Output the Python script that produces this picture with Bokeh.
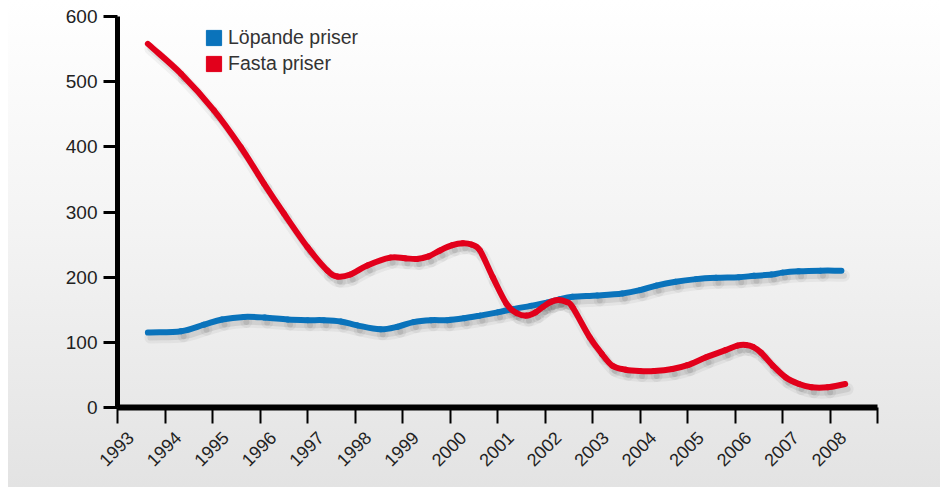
from math import pi
import numpy as np
from bokeh.plotting import figure
from bokeh.models import Range1d, FixedTicker, Legend, LegendItem, LinearAxis
from bokeh.embed import file_html
from bokeh.resources import INLINE

# Tick positions / labels
tick_years = list(range(1993, 2010))
tick_labels = [str(y) for y in range(1993, 2009)] + [""]
y_ticks = [0, 100, 200, 300, 400, 500, 600]

# Series (x in years, y in value)
lopande_x = [1993.64, 1994.34, 1994.82, 1995.20, 1995.66, 1996.10, 1996.58, 1997.00, 1997.34,
             1997.70, 1998.05, 1998.53, 1998.90, 1999.23, 1999.60, 1999.94, 2000.30, 2000.63,
             2001.00, 2001.32, 2001.70, 2002.04, 2002.30, 2002.58, 2003.10, 2003.63, 2004.00,
             2004.34, 2004.75, 2005.18, 2005.60, 2006.08, 2006.40, 2006.77, 2007.00, 2007.34,
             2007.80, 2008.24]
lopande_y = [115, 117, 127, 135, 139, 138, 135, 134, 134,
             132, 126, 120, 124, 131, 134, 134, 137, 141,
             146, 151, 156, 161, 166, 170, 172, 175, 180,
             187, 193, 197, 199, 200, 202, 204, 207, 209,
             210, 210]

fasta_x = [1993.64, 1994.34, 1995.03, 1995.60, 1996.08, 1996.50,
           1997.00, 1997.42, 1997.63, 1997.90, 1998.26, 1998.74, 1999.05, 1999.30, 1999.55,
           1999.79, 2000.05, 2000.27, 2000.45, 2000.63, 2000.90, 2001.19, 2001.40, 2001.61,
           2001.80, 2001.95, 2002.12, 2002.28, 2002.45, 2002.58, 2002.94, 2003.20, 2003.42,
           2003.70, 2003.99, 2004.30, 2004.68, 2005.00, 2005.39, 2005.80, 2006.05, 2006.23,
           2006.38, 2006.55, 2006.80, 2007.07, 2007.35, 2007.61, 2007.95, 2008.32]
fasta_y = [558, 512, 456, 399, 344, 298,
           246, 210, 201, 204, 218, 230, 229, 228, 232,
           241, 249, 252, 250, 241, 200, 159, 145, 141,
           146, 154, 162, 165, 162, 154, 108, 82, 64,
           58, 56, 56, 59, 65, 77, 88, 95, 96,
           93, 84, 64, 46, 36, 31, 31, 36]

BLUE = "#0a73bb"
RED = "#e2001b"

x0, x1 = 1993.0, 2009.0
y0, y1 = 0.0, 600.0
FW, FH = 760, 391


def smooth_segments(xs, ys):
    """Catmull-Rom -> cubic Bezier segments through the given points."""
    x = np.asarray(xs, float)
    y = np.asarray(ys, float)
    xp = np.concatenate([[2 * x[0] - x[1]], x, [2 * x[-1] - x[-2]]])
    yp = np.concatenate([[2 * y[0] - y[1]], y, [2 * y[-1] - y[-2]]])
    n = len(x) - 1
    seg = dict(x0=[], y0=[], x1=[], y1=[], cx0=[], cy0=[], cx1=[], cy1=[])
    for i in range(n):
        a, b, c, d = i, i + 1, i + 2, i + 3
        seg["x0"].append(xp[b]); seg["y0"].append(yp[b])
        seg["x1"].append(xp[c]); seg["y1"].append(yp[c])
        seg["cx0"].append(xp[b] + (xp[c] - xp[a]) / 6.0)
        seg["cy0"].append(yp[b] + (yp[c] - yp[a]) / 6.0)
        seg["cx1"].append(xp[c] - (xp[d] - xp[b]) / 6.0)
        seg["cy1"].append(yp[c] - (yp[d] - yp[b]) / 6.0)
    return seg


p = figure(
    output_backend="svg", toolbar_location=None,
    frame_width=FW, frame_height=FH,
    min_border_left=117, min_border_right=63, min_border_top=16, min_border_bottom=80,
    x_range=Range1d(x0, x1), y_range=Range1d(y0, y1),
    x_axis_type=None, y_axis_type=None,
)
p.background_fill_alpha = 0
p.border_fill_alpha = 0
p.outline_line_color = None
p.styles = {"background": ("linear-gradient(to right, #ffffff 0px, #ffffff 8px, rgba(255,255,255,0) 8px), "
                           "linear-gradient(to bottom, #ffffff 0%, #f4f4f4 45%, #e3e3e3 100%)")}

# shadow ranges (offset a few pixels right and down) and label range (shift right)
dx = 2.5 * (x1 - x0) / FW
dy = 5.0 * (y1 - y0) / FH
lab = 13.0 * (x1 - x0) / FW
p.extra_x_ranges = {"sx": Range1d(x0 - dx, x1 - dx), "lx": Range1d(x0 - lab, x1 - lab)}
p.extra_y_ranges = {"sy": Range1d(y0 + dy, y1 + dy)}

# axes
yaxis = LinearAxis(ticker=FixedTicker(ticks=y_ticks))
yaxis.axis_line_width = 5
yaxis.axis_line_color = "black"
yaxis.major_tick_line_width = 3
yaxis.major_tick_out = 14
yaxis.major_tick_in = 0
yaxis.minor_tick_line_color = None
yaxis.major_label_text_font = "Liberation Sans"
yaxis.major_label_text_font_size = "19px"
yaxis.major_label_text_color = "#222222"
yaxis.major_label_standoff = 6
p.add_layout(yaxis, "left")

xaxis = LinearAxis(ticker=FixedTicker(ticks=tick_years))
xaxis.major_label_overrides = {y: "" for y in tick_years}
xaxis.major_label_text_font_size = "1px"
xaxis.major_label_standoff = 0
xaxis.axis_line_width = 6
xaxis.axis_line_color = "black"
xaxis.major_tick_line_width = 2
xaxis.major_tick_out = 16
xaxis.major_tick_in = 0
xaxis.minor_tick_line_color = None
p.add_layout(xaxis, "below")

laxis = LinearAxis(x_range_name="lx", ticker=FixedTicker(ticks=tick_years))
laxis.major_label_overrides = {y: l for y, l in zip(tick_years, tick_labels)}
laxis.axis_line_color = None
laxis.major_tick_line_color = None
laxis.major_tick_out = 0
laxis.major_tick_in = 0
laxis.minor_tick_line_color = None
laxis.major_label_orientation = pi / 4
laxis.major_label_text_font = "Liberation Sans"
laxis.major_label_text_font_size = "18px"
laxis.major_label_text_color = "#222222"
laxis.major_label_standoff = 11
p.add_layout(laxis, "below")

p.ygrid.ticker = FixedTicker(ticks=y_ticks[1:])
p.ygrid.grid_line_color = "#9a9a9a"
p.ygrid.grid_line_dash = "2 4"
p.ygrid.grid_line_width = 1.5
p.xgrid.grid_line_color = None

blue_seg = smooth_segments(lopande_x, lopande_y)
red_seg = smooth_segments(fasta_x, fasta_y)

# shadows
for seg in (blue_seg, red_seg):
    p.bezier(x_range_name="sx", y_range_name="sy", line_color="black",
             line_alpha=0.045, line_width=12, line_cap="round", **seg)
    p.bezier(x_range_name="sx", y_range_name="sy", line_color="black",
             line_alpha=0.08, line_width=6, line_cap="round", **seg)

p.bezier(line_color=BLUE, line_width=6, line_cap="round", **blue_seg)
p.bezier(line_color=RED, line_width=6, line_cap="round", **red_seg)

# legend proxies (never visible in the frame)
nan = float("nan")
q_blue = p.quad(left=[nan], right=[nan], top=[nan], bottom=[nan], fill_color=BLUE, line_color=BLUE)
q_red = p.quad(left=[nan], right=[nan], top=[nan], bottom=[nan], fill_color=RED, line_color=RED)
legend = Legend(items=[LegendItem(label="Löpande priser", renderers=[q_blue]),
                       LegendItem(label="Fasta priser", renderers=[q_red])],
                location=(87, 332))
legend.background_fill_alpha = 0
legend.border_line_color = None
legend.padding = 0
legend.margin = 0
legend.spacing = 3
legend.glyph_width = 19
legend.glyph_height = 19
legend.label_height = 20
legend.label_standoff = 5
legend.label_text_font = "Liberation Sans"
legend.label_text_font_size = "19.5px"
legend.label_text_color = "#333333"
p.add_layout(legend, "center")

open("out.html", "w").write(file_html(p, INLINE))
